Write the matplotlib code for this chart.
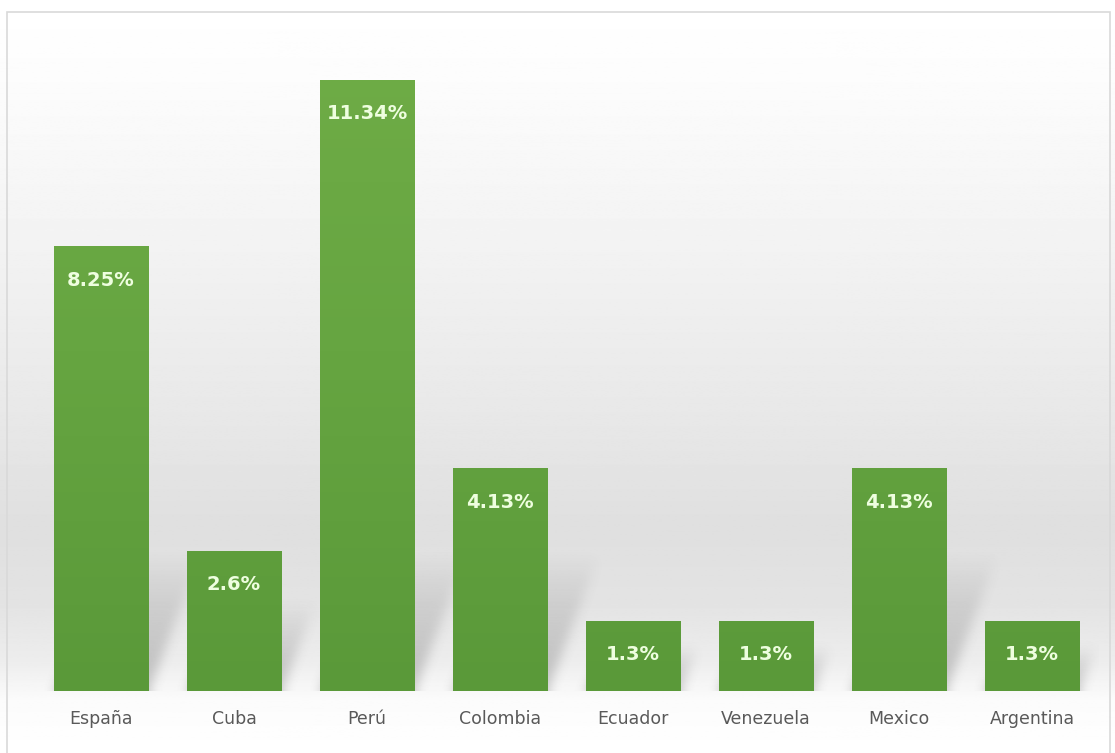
import numpy as np
import matplotlib
matplotlib.use("Agg")
import matplotlib.pyplot as plt
from matplotlib.patches import Rectangle
from matplotlib.colors import LinearSegmentedColormap

categories = ["España", "Cuba", "Perú", "Colombia", "Ecuador", "Venezuela", "Mexico", "Argentina"]
values = [8.25, 2.6, 11.34, 4.13, 1.3, 1.3, 4.13, 1.3]
value_labels = ["8.25%", "2.6%", "11.34%", "4.13%", "1.3%", "1.3%", "4.13%", "1.3%"]

W, H = 1115, 753
fig = plt.figure(figsize=(W / 100, H / 100), dpi=100)

# Figure background gradient
bg = fig.add_axes([0, 0, 1, 1], zorder=0)
bg.set_axis_off()
ys = np.linspace(0, 1, 600)  # 0 = top
stops_y = [0.0, 0.1, 0.33, 0.55, 0.70, 0.80, 0.88, 0.93, 1.0]
stops_v = [1.0, 0.99, 0.95, 0.91, 0.875, 0.89, 0.93, 0.985, 1.0]
vals = np.interp(ys, stops_y, stops_v)
img = np.repeat(vals[:, None], 2, axis=1)
bg.imshow(img, cmap="gray", vmin=0, vmax=1, aspect="auto", extent=[0, 1, 0, 1], origin="upper")
bg.set_xlim(0, 1)
bg.set_ylim(0, 1)
bg.add_patch(Rectangle((7 / W, -0.01), (1110 - 7) / W, 1 - 12 / H + 0.01,
                       fill=False, edgecolor="#d9d9d9", lw=1.2))

left = 34.5 / W
right = 1098.5 / W
bottom = 1 - 691 / H
top = 1 - 12 / H
ax = fig.add_axes([left, bottom, right - left, top - bottom], zorder=1)
ax.patch.set_alpha(0)
ymax = (691 - 12) / 53.9
n = len(categories)
ax.set_xlim(-0.5, n - 0.5)
ax.set_ylim(0, ymax)

bw = 0.71
x = np.arange(n)

# soft skewed shadows (computed on a grid in data coordinates)
nx, ny = 1064, 679
gx = np.linspace(-0.5, n - 0.5, nx)[None, :]
gy = np.linspace(0, ymax, ny)[:, None]
alpha = np.zeros((ny, nx))
shear = 0.154
for xi, v in zip(x, values):
    hs = min(0.62 * v, 2.5)
    inside = (gy < hs) & (gx >= xi - bw / 2 + shear * gy) & (gx <= xi + bw / 2 + shear * gy)
    a = 0.34 * np.clip(1 - gy / hs, 0, 1) ** 0.8
    alpha = np.maximum(alpha, np.where(inside, a, 0))


def box_blur(arr, r, axis):
    k = 2 * r + 1
    pad = [(0, 0), (0, 0)]
    pad[axis] = (r + 1, r)
    p = np.pad(arr, pad, mode="edge")
    c = np.cumsum(p, axis=axis)
    if axis == 0:
        return (c[k:, :] - c[:-k, :]) / k
    return (c[:, k:] - c[:, :-k]) / k


for _ in range(3):
    alpha = box_blur(alpha, 5, 0)
    alpha = box_blur(alpha, 5, 1)
alpha[0:2, :] = alpha[2:4, :]
rgba = np.zeros((ny, nx, 4))
rgba[..., :3] = 0.35
rgba[..., 3] = np.clip(alpha, 0, 1)
ax.imshow(rgba, origin="lower", aspect="auto", extent=[-0.5, n - 0.5, 0, ymax], zorder=1.5,
          interpolation="bilinear")

green = LinearSegmentedColormap.from_list("g", ["#5a9939", "#66a541", "#70ad47"])
grad = np.linspace(0, 1, 256)[:, None]
bars = ax.bar(x, values, width=bw, color="#68a843", zorder=2, edgecolor="#8fcf62", linewidth=0.6)
for b in bars:
    x0 = b.get_x()
    im = ax.imshow(grad, cmap=green, aspect="auto", origin="lower",
                   extent=[x0, x0 + b.get_width(), 0, ymax], zorder=3)
    im.set_clip_path(b)

for xi, v, lab in zip(x, values, value_labels):
    ax.annotate(lab, (xi, v), xytext=(0, -34), textcoords="offset pixels",
                ha="center", va="center", color="#eefedf", fontsize=14, fontweight="bold",
                family="DejaVu Sans Condensed", zorder=5)

ax.set_xticks(x)
ax.set_xticklabels(categories, fontsize=12.5, color="#595959", family="DejaVu Sans Condensed")
ax.tick_params(axis="x", length=0, pad=14)
ax.set_yticks([])
for s in ax.spines.values():
    s.set_visible(False)
ax.set_xlim(-0.5, n - 0.5)
ax.set_ylim(0, ymax)

fig.savefig("out.png", dpi=100)
